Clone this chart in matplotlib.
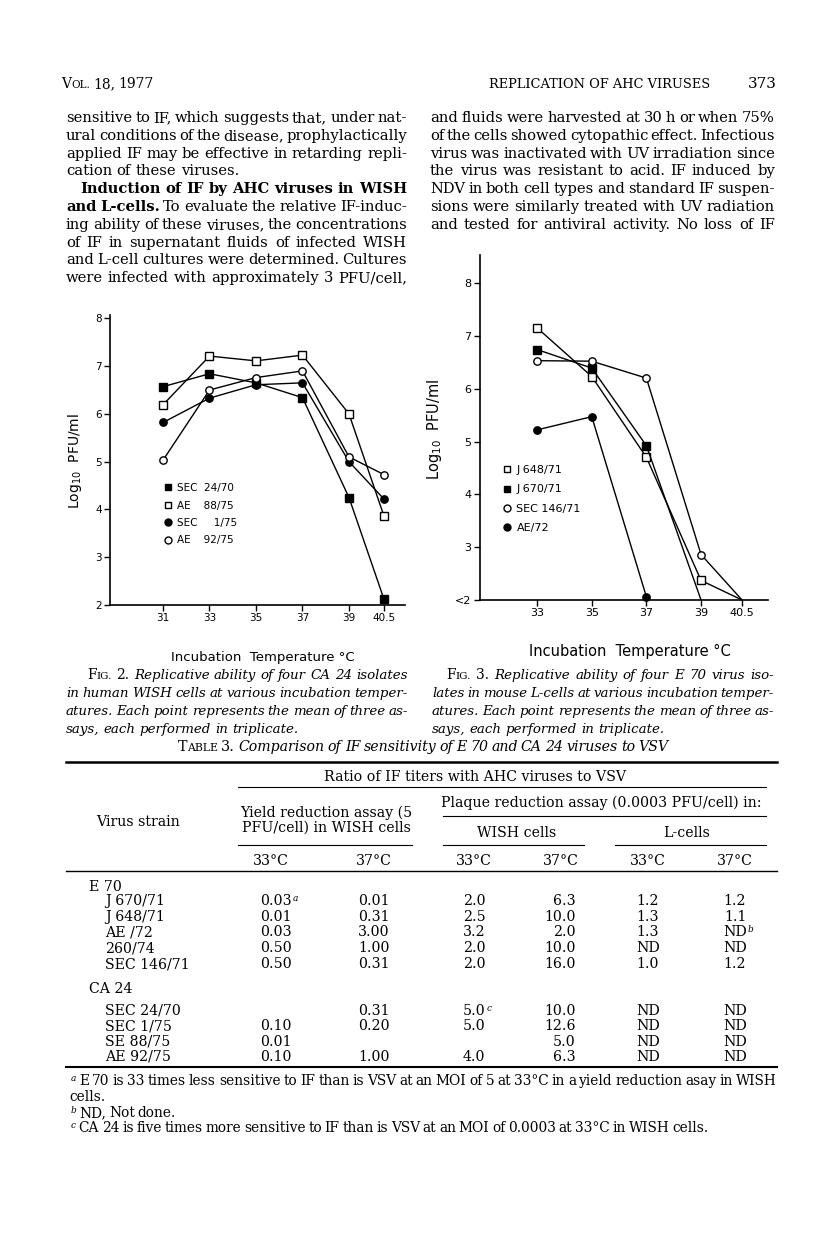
import matplotlib
matplotlib.use("Agg")
import matplotlib.pyplot as plt
from matplotlib.lines import Line2D

W, H = 816, 1245

# ---- Fig. 2: CA 24 isolates in WISH cells (log10 PFU/ml)
fig2_temps = [31, 33, 35, 37, 39, 40.5]
fig2_sec_24_70 = [6.57, 6.84, 6.65, 6.34, 4.25, 2.13]
fig2_ae_88_75 = [6.19, 7.21, 7.11, 7.23, 6.00, 3.87]
fig2_sec_1_75 = [5.82, 6.33, 6.61, 6.65, 5.00, 4.22]
fig2_ae_92_75 = [5.03, 6.50, 6.76, 6.90, 5.10, 4.73]
fig2_labels = ["SEC  24/70", "AE    88/75", "SEC     1/75", "AE    92/75"]
fig2_xticks = [31, 33, 35, 37, 39, 40.5]
fig2_yticks = [2, 3, 4, 5, 6, 7, 8]

# ---- Fig. 3: E 70 isolates in L-cells
fig3_temps = [33, 35, 37, 39, 40.5]
fig3_j_648_71 = [7.15, 6.23, 4.70, 2.37, 2.0]
fig3_j_670_71 = [6.74, 6.39, 4.92, 2.0]
fig3_sec_146_71 = [6.53, 6.52, 6.20, 2.86, 2.0]
fig3_ae_72 = [5.22, 5.47, 2.06]
fig3_labels = ["J 648/71", "J 670/71", "SEC 146/71", "AE/72"]
fig3_xticks = [33, 35, 37, 39, 40.5]
fig3_yticks = [2, 3, 4, 5, 6, 7, 8]
fig3_yticklabels = ["<2", "3", "4", "5", "6", "7", "8"]

# ---- Table 3
col_temps = ["33°C", "37°C", "33°C", "37°C", "33°C", "37°C"]
e70_strains = ["J 670/71", "J 648/71", "AE /72", "260/74", "SEC 146/71"]
e70_yield33 = ["0.03^a", "0.01", "0.03", "0.50", "0.50"]
e70_yield37 = ["0.01", "0.31", "3.00", "1.00", "0.31"]
e70_wish33 = ["2.0", "2.5", "3.2", "2.0", "2.0"]
e70_wish37 = ["6.3", "10.0", "2.0", "10.0", "16.0"]
e70_l33 = ["1.2", "1.3", "1.3", "ND", "1.0"]
e70_l37 = ["1.2", "1.1", "ND^b", "ND", "1.2"]
ca24_strains = ["SEC 24/70", "SEC 1/75", "SE 88/75", "AE 92/75"]
ca24_yield33 = ["", "0.10", "0.01", "0.10"]
ca24_yield37 = ["0.31", "0.20", "", "1.00"]
ca24_wish33 = ["5.0^c", "5.0", "", "4.0"]
ca24_wish37 = ["10.0", "12.6", "5.0", "6.3"]
ca24_l33 = ["ND", "ND", "ND", "ND"]
ca24_l37 = ["ND", "ND", "ND", "ND"]

fig = plt.figure(figsize=(W / 100, H / 100), dpi=100)
rend = fig.canvas.get_renderer()


def fx(x):
    return x / W


def fy(y):
    return 1 - y / H


SERIF = "DejaVu Serif"
SANS = "DejaVu Sans"
rm = dict(family=SERIF, fontsize=11)
bf = dict(rm, weight="bold")
it = dict(rm, style="italic", fontsize=10.6)
sc = dict(rm, fontsize=8.2)


def split_words(segs):
    words = []
    glue = False
    for txt, st in segs:
        for i, p in enumerate(txt.split(" ")):
            if i == 0 and glue and words:
                if p:
                    words[-1].append((p, st))
            elif p:
                words.append([(p, st)])
        glue = not txt.endswith(" ")
    return words


def make_words(segs, y):
    placed = []
    for word in split_words(segs):
        parts = []
        for txt, st in word:
            st = dict(st)
            dy = st.pop("dy", 0)
            t = fig.text(0, fy(y - dy), txt, ha="left", va="baseline", **st)
            parts.append((t, t.get_window_extent(renderer=rend).width))
        placed.append(parts)
    return placed


def natural(segs):
    placed = make_words(segs, 0)
    total = sum(w for parts in placed for _, w in parts)
    for parts in placed:
        for t, _ in parts:
            t.remove()
    return total, len(placed)


def scaled(segs, f):
    return [(txt, dict(st, fontsize=st["fontsize"] * f)) for txt, st in segs]


def draw_line(segs, x0, x1, y, justify=True, center=None):
    placed = make_words(segs, y)
    n = len(placed)
    total = sum(w for parts in placed for _, w in parts)
    fs = placed[0][-1][0].get_fontsize()
    if justify and n > 1:
        gap = (x1 - x0 - total) / (n - 1)
    else:
        gap = fs * 100 / 72 * 0.3
    if center is not None:
        x0 = center - (total + gap * (n - 1)) / 2
    x = x0
    for parts in placed:
        for t, w in parts:
            t.set_x(fx(x))
            x += w
        x += gap


def draw_block(lines, min_gap=2.8):
    # lines: (segs, x0, x1, y, justify); one common font scale so every line fits
    f = 1.0
    for segs, x0, x1, y, just in lines:
        if just:
            total, n = natural(segs)
            f = min(f, (x1 - x0 - (n - 1) * min_gap) / total)
    for segs, x0, x1, y, just in lines:
        draw_line(scaled(segs, f), x0, x1, y, justify=just)


# ---- running head
draw_line([("V", dict(rm, fontsize=10)), ("OL.", dict(sc, fontsize=7.6)),
           (" 18, 1977", dict(rm, fontsize=10))], 61, 200, 88, justify=False)
fig.text(fx(710), fy(88), "REPLICATION OF AHC VIRUSES", ha="right", va="baseline",
         family=SERIF, fontsize=9.4)
fig.text(fx(777), fy(88), "373", ha="right", va="baseline", family=SERIF, fontsize=11)

# ---- body text
left_col = [
    ([("sensitive to IF, which suggests that, under nat-", rm)], True, 0),
    ([("ural conditions of the disease, prophylactically", rm)], True, 0),
    ([("applied IF may be effective in retarding repli-", rm)], True, 0),
    ([("cation of these viruses.", rm)], False, 0),
    ([("Induction of IF by AHC viruses in WISH", bf)], True, 14),
    ([("and L-cells. ", bf), ("To evaluate the relative IF-induc-", rm)], True, 0),
    ([("ing ability of these viruses, the concentrations", rm)], True, 0),
    ([("of IF in supernatant fluids of infected WISH", rm)], True, 0),
    ([("and L-cell cultures were determined. Cultures", rm)], True, 0),
    ([("were infected with approximately 3 PFU/cell,", rm)], True, 0),
]
right_col = [
    [("and fluids were harvested at 30 h or when 75%", rm)],
    [("of the cells showed cytopathic effect. Infectious", rm)],
    [("virus was inactivated with UV irradiation since", rm)],
    [("the virus was resistant to acid. IF induced by", rm)],
    [("NDV in both cell types and standard IF suspen-", rm)],
    [("sions were similarly treated with UV radiation", rm)],
    [("and tested for antiviral activity. No loss of IF", rm)],
]
body = [(segs, 66 + ind, 407, 122 + 17.8 * i, just) for i, (segs, just, ind) in enumerate(left_col)]
body += [(segs, 430, 775, 122 + 17.8 * i, True) for i, segs in enumerate(right_col)]
draw_block(body)


# ---- charts
def style_axes(ax):
    for s in ("top", "right"):
        ax.spines[s].set_visible(False)
    for s in ("left", "bottom"):
        ax.spines[s].set_linewidth(1.2)
    ax.tick_params(direction="out", length=4, width=1.0, pad=2)
    for lab in ax.get_xticklabels() + ax.get_yticklabels():
        lab.set_fontfamily(SANS)


# Fig. 2
ax2 = fig.add_axes([fx(110), fy(605), (405 - 110) / W, (605 - 315) / H])
ax2.set_xlim(28.72, 41.41)
ax2.set_ylim(2, 8.07)
fig2_series = [(fig2_sec_24_70, "s", "k"), (fig2_ae_88_75, "s", "w"),
               (fig2_sec_1_75, "o", "k"), (fig2_ae_92_75, "o", "w")]
for vals, m, fc in fig2_series:
    ax2.plot(fig2_temps, vals, color="k", lw=1.0, marker=m, ms=5.3,
             mfc=fc, mec="k", mew=1.0, clip_on=False, zorder=3)
ax2.set_xticks(fig2_xticks)
ax2.set_xticklabels([f"{t:g}" for t in fig2_xticks], fontsize=7.5)
ax2.set_yticks(fig2_yticks)
ax2.set_yticklabels([str(t) for t in fig2_yticks], fontsize=7.5)
style_axes(ax2)
h2 = [Line2D([], [], ls="none", marker=m, ms=5, mfc=fc, mec="k", mew=1.0)
      for _, m, fc in fig2_series]
ax2.legend(h2, fig2_labels, loc="upper left", bbox_to_anchor=(fx(163), fy(483)),
           bbox_transform=fig.transFigure, frameon=False, prop=dict(family=SANS, size=7.5),
           handlelength=0.9, handletextpad=0.4, labelspacing=0.72, borderpad=0, borderaxespad=0)
fig.text(fx(75), fy(461), r"Log$_{\mathregular{10}}$  PFU/ml", rotation=90, ha="center",
         va="center", family=SANS, fontsize=10)
fig.text(fx(263), fy(657), "Incubation  Temperature °C", ha="center", va="center",
         family=SANS, fontsize=9.5)

# Fig. 3
ax3 = fig.add_axes([fx(480), fy(600), (768 - 480) / W, (600 - 255) / H])
ax3.set_xlim(30.91, 41.45)
ax3.set_ylim(2, 8.53)
fig3_series = [(fig3_j_648_71, "s", "w", [0, 1, 2, 3]),
               (fig3_j_670_71, "s", "k", [0, 1, 2]),
               (fig3_sec_146_71, "o", "w", [0, 1, 2, 3]),
               (fig3_ae_72, "o", "k", [0, 1, 2])]
for vals, m, fc, mk in fig3_series:
    ax3.plot(fig3_temps[:len(vals)], vals, color="k", lw=1.0, marker=m, ms=5.3,
             mfc=fc, mec="k", mew=1.0, markevery=mk, clip_on=False, zorder=3)
ax3.set_xticks(fig3_xticks)
ax3.set_xticklabels([f"{t:g}" for t in fig3_xticks], fontsize=8)
ax3.set_yticks(fig3_yticks)
ax3.set_yticklabels(fig3_yticklabels, fontsize=8)
style_axes(ax3)
h3 = [Line2D([], [], ls="none", marker=m, ms=5, mfc=fc, mec="k", mew=1.0)
      for _, m, fc, _ in fig3_series]
ax3.legend(h3, fig3_labels, loc="upper left", bbox_to_anchor=(fx(502), fy(465)),
           bbox_transform=fig.transFigure, frameon=False, prop=dict(family=SANS, size=8),
           handlelength=0.9, handletextpad=0.4, labelspacing=0.85, borderpad=0, borderaxespad=0)
fig.text(fx(435), fy(429), r"Log$_{\mathregular{10}}$  PFU/ml", rotation=90, ha="center",
         va="center", family=SANS, fontsize=10.5)
fig.text(fx(630), fy(651), "Incubation  Temperature °C", ha="center", va="center",
         family=SANS, fontsize=10.5)

# ---- figure legends
cap2 = [
    ([("F", rm), ("IG. ", sc), ("2. ", rm), ("Replicative ability of four CA 24 isolates", it)], True, 87),
    ([("in human WISH cells at various incubation temper-", it)], True, 66),
    ([("atures. Each point represents the mean of three as-", it)], True, 66),
    ([("says, each performed in triplicate.", it)], False, 66),
]
cap3 = [
    ([("F", rm), ("IG. ", sc), ("3. ", rm), ("Replicative ability of four E 70 virus iso-", it)], True, 446),
    ([("lates in mouse L-cells at various incubation temper-", it)], True, 432),
    ([("atures. Each point represents the mean of three as-", it)], True, 432),
    ([("says, each performed in triplicate.", it)], False, 432),
]
caps = [(segs, x0, 408, 679 + 18 * i, just) for i, (segs, just, x0) in enumerate(cap2)]
caps += [(segs, x0, 774, 679 + 18 * i, just) for i, (segs, just, x0) in enumerate(cap3)]
draw_block(caps)

# ---- Table 3
draw_line([("T", dict(rm, fontsize=10.4)), ("ABLE ", dict(sc, fontsize=7.8)),
           ("3. ", dict(rm, fontsize=10.4)),
           ("Comparison of IF sensitivity of E 70 and CA 24 viruses to VSV",
            dict(it, fontsize=10.2))],
          0, 0, 751, justify=False, center=423)

tf = dict(family=SERIF, fontsize=10.2)


def hline(y, x0, x1, lw=0.8):
    fig.add_artist(Line2D([fx(x0), fx(x1)], [fy(y), fy(y)], color="k", lw=lw,
                          transform=fig.transFigure))


hline(762, 66, 777, 1.8)
hline(787, 238, 766)
hline(816, 443, 766)
hline(845, 238, 412)
hline(845, 443, 584)
hline(845, 615, 766)
hline(871, 66, 777, 1.0)
hline(1067, 66, 777, 1.5)


def ctext(x, y, s, ha="center"):
    fig.text(fx(x), fy(y + 4), s, ha=ha, va="baseline", **tf)


ctext(475, 777, "Ratio of IF titers with AHC viruses to VSV")
ctext(138, 822, "Virus strain")
ctext(326, 813, "Yield reduction assay (5")
ctext(326, 828, "PFU/cell) in WISH cells")
ctext(601, 803, "Plaque reduction assay (0.0003 PFU/cell) in:")
ctext(517, 833, "WISH cells")
ctext(687, 833, "L-cells")
col_x = [271, 374, 474, 561, 648, 735]
for x, s in zip(col_x, col_temps):
    ctext(x, 861, s)

cell_x = [(276, "center"), (374, "center"), (474, "center"), (576, "right"),
          (648, "center"), (735, "center")]


def cell(x, ha, y, s):
    if not s:
        return
    main, _, note = s.partition("^")
    t = fig.text(fx(x), fy(y + 4), main, ha=ha, va="baseline", **tf)
    if note:
        bb = t.get_window_extent(renderer=rend)
        fig.text(fx(bb.x1 + 1), fy(y), note, ha="left", va="baseline",
                 family=SERIF, fontsize=6.5, style="italic")


def table_block(title, y_title, y0, dy, strains, cols):
    fig.text(fx(89), fy(y_title + 4), title, ha="left", va="baseline", **tf)
    for i, name in enumerate(strains):
        y = y0 + dy * i
        fig.text(fx(105), fy(y + 4), name, ha="left", va="baseline", **tf)
        for (x, ha), col in zip(cell_x, cols):
            cell(x, ha, y, col[i])


table_block("E 70", 887, 901, 15.75, e70_strains,
            [e70_yield33, e70_yield37, e70_wish33, e70_wish37, e70_l33, e70_l37])
table_block("CA 24", 989, 1011, 15.3, ca24_strains,
            [ca24_yield33, ca24_yield37, ca24_wish33, ca24_wish37, ca24_l33, ca24_l37])

# ---- footnotes
fn = dict(family=SERIF, fontsize=9.9)
fsup = dict(family=SERIF, fontsize=6.5, style="italic", dy=4)
draw_block([
    ([("a", fsup), (" E 70 is 33 times less sensitive to IF than is VSV at an MOI of 5 at 33°C"
                    " in a yield reduction asay in WISH", fn)], 71, 777, 1085, True),
    ([("cells.", fn)], 69, 300, 1101, False),
    ([("b", fsup), (" ND, Not done.", fn)], 71, 300, 1117, False),
    ([("c", fsup), (" CA 24 is five times more sensitive to IF than is VSV at an MOI of 0.0003"
                    " at 33°C in WISH cells.", fn)], 71, 777, 1132, False),
])

fig.savefig("out.png", dpi=100)
